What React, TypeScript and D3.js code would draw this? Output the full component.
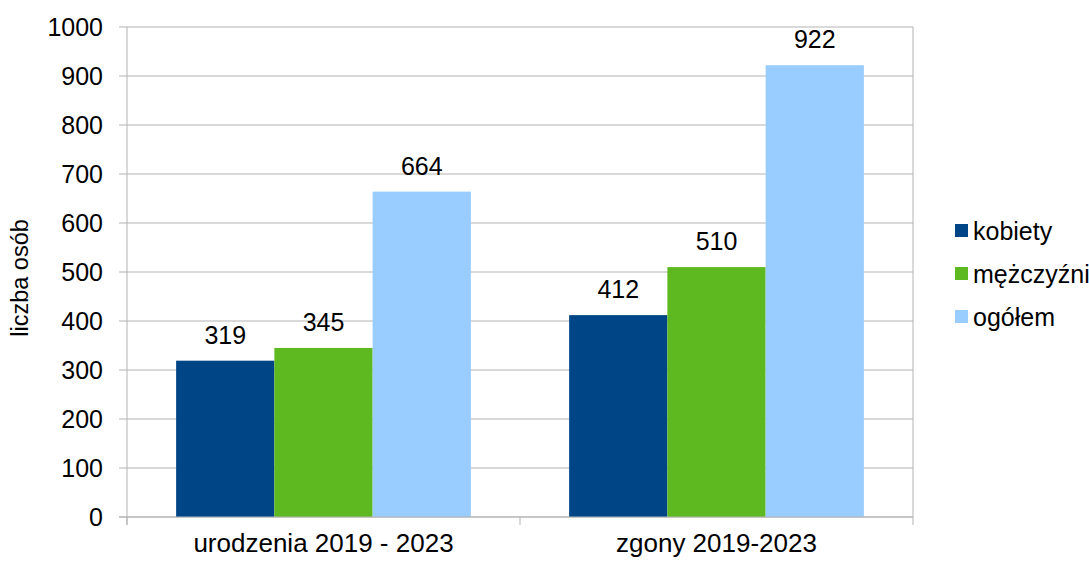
import React from "react";
import * as d3 from "d3";

const categories = ["urodzenia 2019 - 2023", "zgony 2019-2023"];
const seriesNames = ["kobiety", "mężczyźni", "ogółem"];
const kobiety = [319, 412];
const mezczyzni = [345, 510];
const ogolem = [664, 922];
const yTicks = [0, 100, 200, 300, 400, 500, 600, 700, 800, 900, 1000];
const colors = ["#004586", "#5eb820", "#99ccff"];
const yTitle = "liczba osób";

const W = 1089;
const H = 563;
const m = { left: 127, right: 913, top: 27, bottom: 517 };
const FONT = "'Liberation Sans', Arial, sans-serif";
const GRID = "#b3b3b3";

export default function App() {
  const series = [kobiety, mezczyzni, ogolem];
  const x = d3.scaleBand<string>().domain(categories).range([m.left, m.right]).padding(0);
  const bw = x.bandwidth();
  const xi = d3
    .scaleBand<string>()
    .domain(seriesNames)
    .range([bw / 8, (bw * 7) / 8])
    .padding(0);
  const y = d3.scaleLinear().domain([0, 1000]).range([m.bottom, m.top]);
  const xTickPositions = [m.left, ...categories.map((c) => (x(c) as number) + bw)];

  return (
    <svg
      width={W}
      height={H}
      style={{ position: "absolute", left: 0, top: 0, background: "#fff" }}
      fontFamily={FONT}
    >
      {yTicks.map((t) => (
        <line key={"g" + t} x1={m.left - 8} x2={m.right} y1={y(t)} y2={y(t)} stroke={GRID} strokeWidth={1} />
      ))}
      <line x1={m.right} x2={m.right} y1={m.top} y2={m.bottom} stroke={GRID} strokeWidth={1} />
      {categories.map((c, ci) =>
        seriesNames.map((s, si) => {
          const v = series[si][ci];
          const bx = (x(c) as number) + (xi(s) as number);
          return (
            <g key={c + s}>
              <rect x={bx} y={y(v)} width={xi.bandwidth()} height={y(0) - y(v)} fill={colors[si]} />
              <text
                x={bx + xi.bandwidth() / 2}
                y={y(v) - 17}
                textAnchor="middle"
                fontSize={25}
                fill="#000"
              >
                {v}
              </text>
            </g>
          );
        })
      )}
      <line x1={m.left} x2={m.left} y1={m.top} y2={m.bottom + 8} stroke={GRID} strokeWidth={1} />
      <line x1={m.left - 8} x2={m.right} y1={m.bottom} y2={m.bottom} stroke={GRID} strokeWidth={1} />
      {xTickPositions.map((p, i) => (
        <line key={"xt" + i} x1={p} x2={p} y1={m.bottom} y2={m.bottom + 8} stroke={GRID} strokeWidth={1} />
      ))}
      {yTicks.map((t) => (
        <text key={"yl" + t} x={103} y={y(t)} dy="0.36em" textAnchor="end" fontSize={25} fill="#000">
          {t}
        </text>
      ))}
      {categories.map((c) => (
        <text key={"xl" + c} x={(x(c) as number) + bw / 2} y={552} textAnchor="middle" fontSize={26} fill="#000">
          {c}
        </text>
      ))}
      <text
        transform={`translate(28,278) rotate(-90)`}
        textAnchor="middle"
        fontSize={23.5}
        fill="#000"
      >
        {yTitle}
      </text>
      {seriesNames.map((s, i) => (
        <g key={"lg" + s} transform={`translate(955,${224 + i * 43})`}>
          <rect x={0} y={0} width={13} height={13} fill={colors[i]} />
          <text x={18} y={6.5} dy="0.36em" fontSize={25} fill="#000">
            {s}
          </text>
        </g>
      ))}
    </svg>
  );
}
